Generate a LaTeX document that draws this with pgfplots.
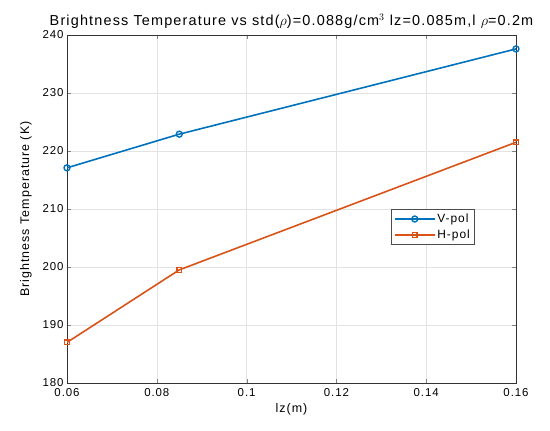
\documentclass[border=0pt]{standalone}
\usepackage{pgfplots}
\pgfplotsset{compat=1.18}
\usepackage{fontspec}
\setmainfont{Liberation Sans}[LetterSpace=8]
\definecolor{mblue}{RGB}{0,114,189}
\definecolor{morange}{RGB}{217,83,25}
\pgfplotsset{
  longline/.style={legend image code/.code={
    \draw[mark repeat=2, mark phase=2, ##1, line width=1.6pt] plot coordinates {(0cm,0cm) (0.7cm,0cm) (1.4cm,0cm)};}}
}
\begin{document}
\begin{tikzpicture}
\path[use as bounding box] (0,0) rectangle (550bp,431bp);
\begin{axis}[
  at={(67bp,48bp)}, anchor=south west,
  width=449bp, height=348bp, scale only axis,
  xmin=0.06, xmax=0.16, ymin=180, ymax=240,
  xtick={0.06,0.08,0.1,0.12,0.14,0.16},
  xticklabels={0.06,0.08,0.1,0.12,0.14,0.16},
  ytick={180,190,...,240},
  /pgf/number format/assume math mode=true,
  tick label style={font=\fontsize{11.5}{12}\selectfont},
  xticklabel style={yshift=-2bp},
  grid=major, grid style={gray!22},
  tick align=inside, tickpos=both,
  axis line style={black!80, line width=0.8pt},
  xlabel={lz(m)}, ylabel={Brightness Temperature (K)},
  label style={font=\fontsize{12.5}{14}\selectfont},
  ylabel style={yshift=4bp},
  title={Brightness Temperature vs std($\rho$)=0.088g/cm$^3$ lz=0.085m,l $\rho$=0.2m},
  title style={font=\fontsize{14.5}{17}\selectfont, yshift=-3bp},
  legend style={at={(0.722,0.5)}, anchor=north west, font=\fontsize{12}{14}\selectfont,
    draw=black!70, line width=0.9pt, inner sep=2.5pt, row sep=2pt},
  legend cell align=left,
]
\addplot[mblue, line width=1.6pt, mark=o, mark size=3pt, mark options={line width=1.4pt}, longline]
  coordinates {(0.06,217.1) (0.085,222.9) (0.16,237.6)};
\addlegendentry{V-pol}
\addplot[morange, line width=1.6pt, mark=square, mark size=2.4pt, mark options={line width=1.4pt}, longline]
  coordinates {(0.06,187.0) (0.085,199.5) (0.16,221.5)};
\addlegendentry{H-pol}
\end{axis}
\end{tikzpicture}
\end{document}
